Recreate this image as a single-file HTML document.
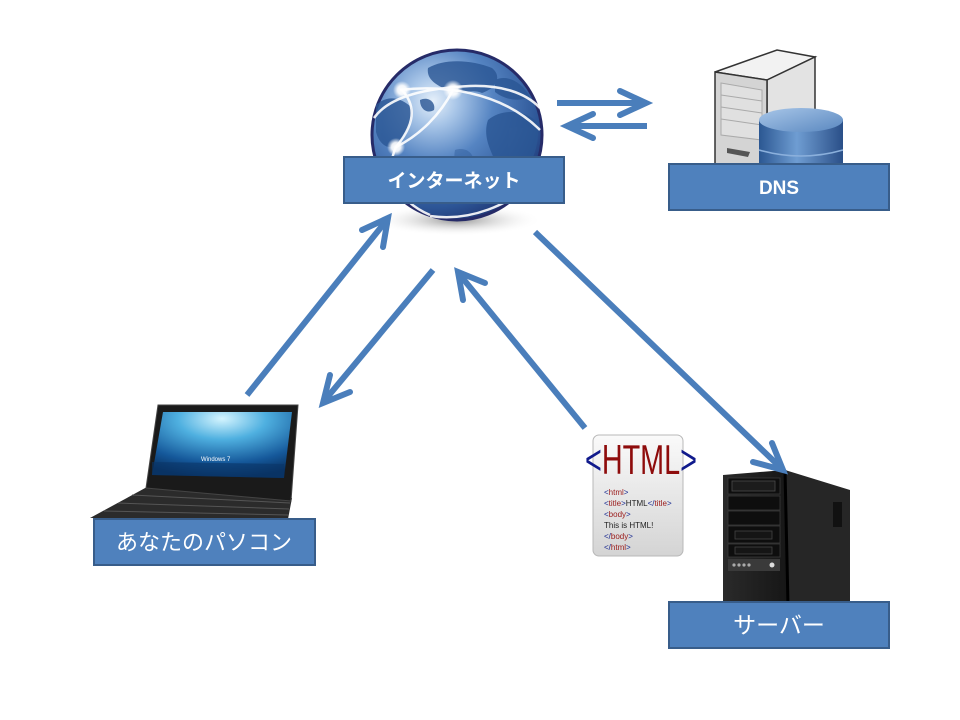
<!DOCTYPE html>
<html><head><meta charset="utf-8"><style>
html,body{margin:0;padding:0;background:#fff;}
svg{display:block;}
.lbl{font-family:"Liberation Sans","Noto Sans CJK JP",sans-serif;fill:#fff;}
</style></head><body>
<svg width="960" height="720" viewBox="0 0 960 720" xmlns="http://www.w3.org/2000/svg">
<defs>
<radialGradient id="gl" cx="0.36" cy="0.3" r="0.78">
<stop offset="0" stop-color="#e6f0fa"/>
<stop offset="0.18" stop-color="#a9c6e8"/>
<stop offset="0.45" stop-color="#5584c2"/>
<stop offset="0.8" stop-color="#2d5697"/>
<stop offset="1" stop-color="#1c2d6a"/>
</radialGradient>
<radialGradient id="sh" cx="0.5" cy="0.5" r="0.5">
<stop offset="0" stop-color="#777" stop-opacity="0.8"/>
<stop offset="1" stop-color="#fff" stop-opacity="0"/>
</radialGradient>
<radialGradient id="dot" cx="0.5" cy="0.5" r="0.5">
<stop offset="0" stop-color="#fff"/>
<stop offset="0.5" stop-color="#fff" stop-opacity="0.9"/>
<stop offset="1" stop-color="#fff" stop-opacity="0"/>
</radialGradient>
<linearGradient id="cyl" x1="0" x2="1" y1="0" y2="0">
<stop offset="0" stop-color="#2b5792"/>
<stop offset="0.45" stop-color="#6f9dd2"/>
<stop offset="1" stop-color="#2a4f88"/>
</linearGradient>
<linearGradient id="cylt" x1="0" x2="1" y1="0" y2="1">
<stop offset="0" stop-color="#a8c6e8"/>
<stop offset="1" stop-color="#5a88c0"/>
</linearGradient>
<linearGradient id="doc" x1="0" x2="0" y1="0" y2="1">
<stop offset="0" stop-color="#fafafa"/>
<stop offset="1" stop-color="#d4d4d4"/>
</linearGradient>
<radialGradient id="scr" cx="0.5" cy="0.1" r="0.9">
<stop offset="0" stop-color="#d5f5ff"/>
<stop offset="0.35" stop-color="#4fb0e0"/>
<stop offset="0.75" stop-color="#15589a"/>
<stop offset="1" stop-color="#083060"/>
</radialGradient>
<linearGradient id="srvf" x1="0" x2="1" y1="0" y2="0">
<stop offset="0" stop-color="#2a2a2a"/>
<stop offset="1" stop-color="#161616"/>
</linearGradient>
</defs>

<!-- Globe shadow -->
<ellipse cx="457" cy="220" rx="85" ry="16" fill="url(#sh)"/>
<!-- Globe -->
<circle cx="457" cy="135" r="85" fill="url(#gl)" stroke="#262b68" stroke-width="3"/>
<g fill="#2a5694" opacity="0.8">
<path d="M488 120 C502 108 526 110 537 122 C541 142 533 162 521 180 C512 192 502 182 498 168 C492 152 482 138 488 120 Z"/>
<path d="M428 68 C445 58 472 60 492 68 C502 76 497 88 482 93 C470 88 460 96 450 91 C438 86 426 80 428 68 Z"/>
<path d="M495 80 C507 74 522 82 530 97 C520 102 505 100 495 92 Z"/>
<path d="M376 105 C388 94 402 98 412 108 C414 122 406 132 399 142 C390 152 380 146 376 132 Z"/>
<path d="M420 100 C428 96 436 102 434 110 C428 114 420 110 420 100 Z"/>
<path d="M395 160 C405 158 415 170 412 192 C405 202 398 192 395 178 Z"/>
<path d="M455 150 C470 145 480 160 470 175 C460 178 452 165 455 150 Z" opacity="0.5"/>
</g>
<g fill="none" stroke="#fff" stroke-width="2.5" opacity="0.9">
<path d="M374 118 C390 95 430 88 470 86 C500 85 525 92 540 108"/>
<path d="M400 90 C440 85 500 90 540 130"/>
<path d="M402 90 C420 110 410 130 396 147"/>
<path d="M453 90 C440 115 420 135 396 147"/>
<path d="M396 147 C385 170 395 200 430 215"/>
<path d="M430 216 C470 222 510 205 535 180"/>
</g>
<circle cx="402" cy="90" r="9" fill="url(#dot)"/>
<circle cx="453" cy="90" r="10" fill="url(#dot)"/>
<circle cx="396" cy="147" r="9" fill="url(#dot)"/>

<!-- Internet label -->
<rect x="344" y="157" width="220" height="46" fill="#4f81bd" stroke="#385d8a" stroke-width="2"/>
<text x="454" y="187" text-anchor="middle" class="lbl" font-size="19" font-weight="bold">インターネット</text>

<!-- DNS server tower -->
<polygon points="715,72 777,50 815,57 767,80" fill="#f2f2f2" stroke="#333" stroke-width="1.5"/>
<polygon points="767,80 815,57 815,170 767,170" fill="#e3e3e3" stroke="#333" stroke-width="1.5"/>
<polygon points="715,72 767,80 767,170 715,170" fill="#d4d4d4" stroke="#333" stroke-width="1.5"/>
<g stroke="#aaa" stroke-width="1" fill="none">
<polygon points="721,83 762,90 762,140 721,135" fill="#e0e0e0"/>
<line x1="721" y1="95" x2="762" y2="101"/>
<line x1="721" y1="107" x2="762" y2="113"/>
<line x1="721" y1="119" x2="762" y2="125"/>
</g>
<path d="M727 148 L750 152 L748 157 L727 153 Z" fill="#555"/>
<rect x="759" y="120" width="84" height="48" fill="url(#cyl)"/>
<ellipse cx="801" cy="120" rx="42" ry="12" fill="url(#cylt)"/>
<path d="M759 150 Q801 162 843 150" stroke="#8bb0dc" stroke-width="1.5" fill="none"/>

<!-- DNS label -->
<rect x="669" y="164" width="220" height="46" fill="#4f81bd" stroke="#385d8a" stroke-width="2"/>
<text x="779" y="194" text-anchor="middle" class="lbl" font-size="19" font-weight="bold">DNS</text>

<!-- DNS arrows -->
<g stroke="#4a7ebb" stroke-width="6" fill="none" stroke-linejoin="miter">
<line x1="557" y1="103" x2="644" y2="103"/>
<polyline points="620,91 646,103 620,115" stroke-linecap="round"/>
<line x1="647" y1="126" x2="568" y2="126"/>
<polyline points="593,114 567,126 593,138" stroke-linecap="round"/>
</g>

<!-- Laptop -->
<polygon points="147,487 292,498 288,519 90,518" fill="#2b2b2b"/>
<g stroke="#555" stroke-width="1">
<line x1="132" y1="495" x2="290" y2="503"/>
<line x1="118" y1="503" x2="289" y2="509"/>
<line x1="104" y1="511" x2="288" y2="515"/>
</g>
<polygon points="158,405 298,405 291,501 146,488" fill="#1a1a1a" stroke="#444" stroke-width="1"/>
<polygon points="163,412 292,412 284,478 152,475" fill="url(#scr)"/>
<polygon points="152,462 284,464 284,478 152,475" fill="#0a3567" opacity="0.6"/>
<text x="201" y="461" font-family="Liberation Sans,sans-serif" font-size="6" fill="#fff">Windows 7</text>

<!-- Laptop label -->
<rect x="94" y="519" width="221" height="46" fill="#4f81bd" stroke="#385d8a" stroke-width="2"/>
<text x="204" y="550" text-anchor="middle" class="lbl" font-size="22">あなたのパソコン</text>

<!-- HTML document -->
<rect x="593" y="435" width="90" height="121" rx="6" fill="url(#doc)" stroke="#b8b8b8" stroke-width="1"/>
<text x="585" y="474" font-family="Liberation Sans,sans-serif" font-size="42" textLength="112" lengthAdjust="spacingAndGlyphs"><tspan fill="#101a8c">&lt;</tspan><tspan fill="#8e0c0c">HTML</tspan><tspan fill="#101a8c">&gt;</tspan></text>
<g font-family="Liberation Sans,sans-serif" font-size="8">
<text x="604" y="495"><tspan fill="#1a2a90">&lt;</tspan><tspan fill="#9a1a1a">html</tspan><tspan fill="#1a2a90">&gt;</tspan></text>
<text x="604" y="506"><tspan fill="#1a2a90">&lt;</tspan><tspan fill="#9a1a1a">title</tspan><tspan fill="#1a2a90">&gt;</tspan><tspan fill="#222">HTML</tspan><tspan fill="#1a2a90">&lt;/</tspan><tspan fill="#9a1a1a">title</tspan><tspan fill="#1a2a90">&gt;</tspan></text>
<text x="604" y="517"><tspan fill="#1a2a90">&lt;</tspan><tspan fill="#9a1a1a">body</tspan><tspan fill="#1a2a90">&gt;</tspan></text>
<text x="604" y="528" fill="#222">This is HTML!</text>
<text x="604" y="539"><tspan fill="#1a2a90">&lt;/</tspan><tspan fill="#9a1a1a">body</tspan><tspan fill="#1a2a90">&gt;</tspan></text>
<text x="604" y="550"><tspan fill="#1a2a90">&lt;/</tspan><tspan fill="#9a1a1a">html</tspan><tspan fill="#1a2a90">&gt;</tspan></text>
</g>

<!-- Server tower -->
<polygon points="785,470 850,490 850,605 788,605" fill="#262626"/>
<polygon points="723,475 785,470 788,605 723,605" fill="url(#srvf)"/>
<line x1="785" y1="470" x2="788" y2="605" stroke="#000" stroke-width="3"/>
<rect x="833" y="502" width="9" height="25" fill="#111"/>
<g fill="#0e0e0e" stroke="#3a3a3a" stroke-width="0.8">
<rect x="728" y="478" width="52" height="16"/>
<rect x="728" y="496" width="52" height="14"/>
<rect x="728" y="511" width="52" height="14"/>
<rect x="728" y="526" width="52" height="17"/>
<rect x="728" y="544" width="52" height="13"/>
</g>
<rect x="732" y="481" width="43" height="10" fill="#1c1c1c" stroke="#4a4a4a" stroke-width="0.8"/>
<rect x="735" y="531" width="37" height="8" fill="#151515" stroke="#444" stroke-width="0.8"/>
<rect x="735" y="547" width="37" height="7" fill="#151515" stroke="#444" stroke-width="0.8"/>
<rect x="728" y="559" width="52" height="12" fill="#3a3a3a"/>
<g fill="#aaa">
<circle cx="734" cy="565" r="1.6"/><circle cx="739" cy="565" r="1.6"/><circle cx="744" cy="565" r="1.6"/><circle cx="749" cy="565" r="1.6"/>
<circle cx="772" cy="565" r="2.5" fill="#ddd"/>
</g>

<!-- Server label -->
<rect x="669" y="602" width="220" height="46" fill="#4f81bd" stroke="#385d8a" stroke-width="2"/>
<text x="779" y="633" text-anchor="middle" class="lbl" font-size="23">サーバー</text>

<!-- Main arrows -->
<g stroke="#4a7ebb" stroke-width="6" fill="none" stroke-linejoin="miter">
<line x1="247" y1="395" x2="386" y2="221"/>
<polyline points="362,230 388,218 383,247" stroke-linecap="round"/>
<line x1="433" y1="270" x2="325" y2="400"/>
<polyline points="330,375 323,403 350,392" stroke-linecap="round"/>
<line x1="585" y1="428" x2="460" y2="275"/>
<polyline points="463,300 458,272 485,283" stroke-linecap="round"/>
<line x1="535" y1="232" x2="780" y2="467"/>
<polyline points="753,462 783,470 772,443" stroke-linecap="round"/>
</g>
</svg>
</body></html>
